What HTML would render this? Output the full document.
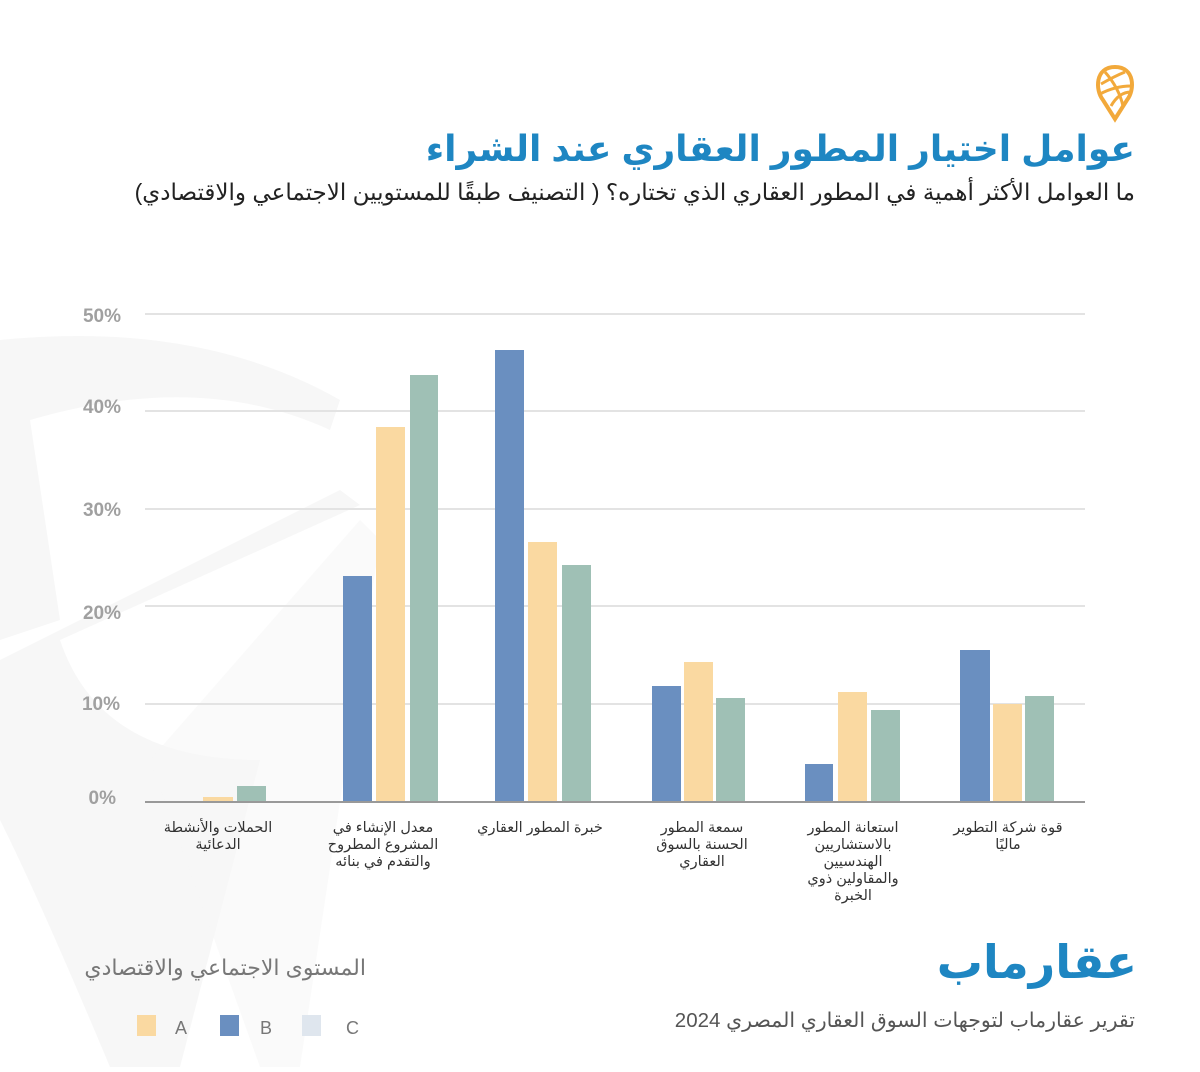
<!DOCTYPE html>
<html><head><meta charset="utf-8"><style>
body{margin:0;width:1200px;height:1067px;background:#fff;overflow:hidden;font-family:"Liberation Sans","Noto Sans CJK SC",sans-serif}
</style></head><body>
<svg width="1200" height="1067" viewBox="0 0 1200 1067" xmlns="http://www.w3.org/2000/svg" font-family="'Liberation Sans','Noto Sans CJK SC','DejaVu Sans',sans-serif">
<!-- watermark -->
<g fill="#f7f7f7">
<path d="M0 340 Q200 320 340 400 L330 430 Q200 370 30 420 L60 620 L0 640 Z"/>
<path d="M0 660 L340 490 L360 505 L60 640 Q100 760 260 760 L180 1067 L110 1067 Q40 900 0 820 Z"/>
<path d="M150 760 L360 520 L380 540 Q340 800 300 1067 L260 1067 Z" opacity="0.6"/>
</g>
<!-- header -->
<g transform="translate(1115,92)">
<path d="M0 -25 C-20 -25 -20 -2 -12 8 L0 27 L12 8 C20 -2 20 -25 0 -25Z" fill="none" stroke="#f2a93b" stroke-width="4"/>
<path d="M-14 -8 Q0 -16 10 -20 M-15 2 Q0 -6 16 -6 M-10 -20 Q4 -4 8 14 M-4 14 Q4 0 16 0" stroke="#f2a93b" stroke-width="3" fill="none"/>
</g>
<text x="1135" y="161" text-anchor="start" font-size="36" font-weight="bold" fill="#1e86c2" direction="rtl">عوامل اختيار المطور العقاري عند الشراء</text>
<text x="1135" y="200" text-anchor="start" font-size="23" fill="#222" direction="rtl">ما العوامل الأكثر أهمية في المطور العقاري الذي تختاره؟ ( التصنيف طبقًا للمستويين الاجتماعي والاقتصادي)</text>
<!-- grid -->
<g stroke="#e3e3e3" stroke-width="2">
<line x1="145" x2="1085" y1="314" y2="314"/><line x1="145" x2="1085" y1="411" y2="411"/>
<line x1="145" x2="1085" y1="509" y2="509"/><line x1="145" x2="1085" y1="606" y2="606"/>
<line x1="145" x2="1085" y1="704" y2="704"/>
</g>
<g font-size="19" fill="#a0a0a0" text-anchor="end" font-weight="bold">
<text x="121" y="322">50%</text><text x="121" y="413">40%</text><text x="121" y="516">30%</text>
<text x="121" y="619">20%</text><text x="120" y="710">10%</text><text x="116" y="804">0%</text>
</g>
<!-- bars -->
<g fill="#6a8fc0">
<rect x="343" y="576" width="29" height="226"/><rect x="495" y="350" width="29" height="452"/>
<rect x="652" y="686" width="29" height="116"/><rect x="805" y="764" width="28" height="38"/>
<rect x="960" y="650" width="30" height="152"/>
</g>
<g fill="#fad9a1">
<rect x="203" y="797" width="30" height="5"/><rect x="376" y="427" width="29" height="375"/>
<rect x="528" y="542" width="29" height="260"/><rect x="684" y="662" width="29" height="140"/>
<rect x="838" y="692" width="29" height="110"/><rect x="993" y="704" width="29" height="98"/>
</g>
<g fill="#9fc0b5">
<rect x="237" y="786" width="29" height="16"/><rect x="410" y="375" width="28" height="427"/>
<rect x="562" y="565" width="29" height="237"/><rect x="716" y="698" width="29" height="104"/>
<rect x="871" y="710" width="29" height="92"/><rect x="1025" y="696" width="29" height="106"/>
</g>
<line x1="145" x2="1085" y1="802" y2="802" stroke="#999" stroke-width="2"/>
<!-- category labels -->
<g font-size="14.5" fill="#333" text-anchor="middle">
<text x="218" y="832">الحملات والأنشطة</text><text x="218" y="849">الدعائية</text>
<text x="383" y="832">معدل الإنشاء في</text><text x="383" y="849">المشروع المطروح</text><text x="383" y="866">والتقدم في بنائه</text>
<text x="540" y="832">خبرة المطور العقاري</text>
<text x="702" y="832">سمعة المطور</text><text x="702" y="849">الحسنة بالسوق</text><text x="702" y="866">العقاري</text>
<text x="853" y="832">استعانة المطور</text><text x="853" y="849">بالاستشاريين</text><text x="853" y="866">الهندسيين</text><text x="853" y="883">والمقاولين ذوي</text><text x="853" y="900">الخبرة</text>
<text x="1008" y="832">قوة شركة التطوير</text><text x="1008" y="849">ماليًا</text>
</g>
<!-- legend -->
<text x="366" y="975" text-anchor="start" font-size="22" fill="#777" direction="rtl">المستوى الاجتماعي والاقتصادي</text>
<rect x="137" y="1015" width="19" height="21" fill="#fad9a1"/><text x="175" y="1034" font-size="18" fill="#777">A</text>
<rect x="220" y="1015" width="19" height="21" fill="#6a8fc0"/><text x="260" y="1034" font-size="18" fill="#777">B</text>
<rect x="302" y="1015" width="19" height="21" fill="#dfe6ee"/><text x="346" y="1034" font-size="18" fill="#777">C</text>
<!-- brand -->
<text x="1137" y="978" text-anchor="start" font-size="46" font-weight="bold" fill="#1e86c2" direction="rtl">عقارماب</text>
<text x="1135" y="1027" text-anchor="start" font-size="20.5" fill="#555" direction="rtl">تقرير عقارماب لتوجهات السوق العقاري المصري 2024</text>
</svg>
</body></html>
